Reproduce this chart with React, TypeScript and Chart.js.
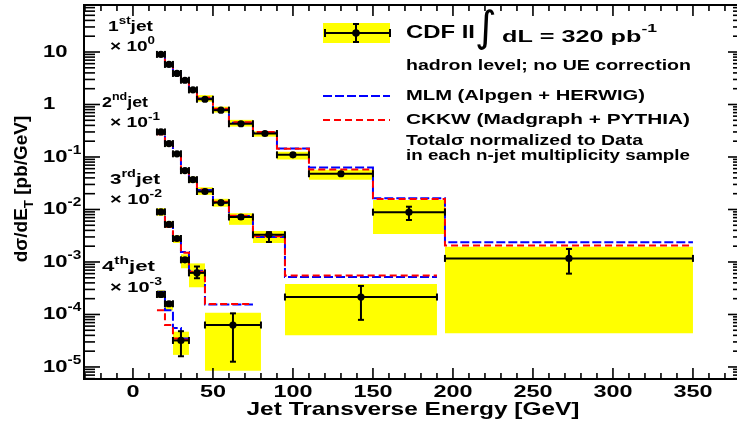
import React, { useEffect, useRef } from 'react';
import { Chart, registerables } from 'chart.js';

Chart.register(...registerables);

// ---------------- data (pb/GeV, values as plotted = already multiplied by the jet's factor) ----------------
// 1st jet  (x 10^0)
const jet1Edges = [15, 20, 25, 30, 35, 40, 50, 60, 75, 90, 110, 150, 195, 350];
const jet1Data = [9.0, 5.8, 3.9, 2.9, 1.9, 1.26, 0.78, 0.43, 0.28, 0.11, 0.048, 0.0089, 0.00117];
const jet1StatHi = [9.4, 6.05, 4.05, 3.02, 1.97, 1.31, 0.81, 0.45, 0.292, 0.116, 0.051, 0.0113, 0.00177];
const jet1StatLo = [8.6, 5.55, 3.75, 2.78, 1.83, 1.21, 0.75, 0.41, 0.268, 0.104, 0.045, 0.0063, 0.0006];
const jet1SysHi = [9.9, 6.4, 4.3, 3.2, 2.1, 1.51, 0.91, 0.51, 0.31, 0.126, 0.057, 0.0151, 0.00195];
const jet1SysLo = [8.2, 5.3, 3.5, 2.6, 1.7, 1.13, 0.7, 0.38, 0.244, 0.09, 0.037, 0.0034, 0.000044];
const jet1MlmEdges = [15, 20, 25, 30, 35, 40, 50, 60, 75, 90, 110, 150, 195, 350];
const jet1Mlm = [9.3, 6.0, 4.0, 2.95, 1.9, 1.3, 0.8, 0.45, 0.29, 0.145, 0.063, 0.0163, 0.00237];
const jet1Ckkw = [8.5, 5.6, 3.8, 2.9, 1.95, 1.36, 0.83, 0.46, 0.3, 0.143, 0.058, 0.0158, 0.00205];

// 2nd jet  (x 10^-1)
const jet2Edges = [15, 20, 25, 30, 35, 40, 50, 60, 75, 95, 190];
const jet2Data = [0.3, 0.18, 0.115, 0.055, 0.037, 0.022, 0.0135, 0.0072, 0.0033, 0.000215];
const jet2StatHi = [0.31, 0.186, 0.119, 0.057, 0.0385, 0.023, 0.0142, 0.0077, 0.0037, 0.00035];
const jet2StatLo = [0.29, 0.174, 0.111, 0.053, 0.0355, 0.021, 0.0128, 0.0067, 0.0024, 0.000079];
const jet2SysHi = [0.33, 0.2, 0.127, 0.061, 0.042, 0.0265, 0.016, 0.0085, 0.0039, 0.00038];
const jet2SysLo = [0.27, 0.16, 0.103, 0.049, 0.032, 0.019, 0.0113, 0.0051, 0.0023, 0.00004];
const jet2MlmEdges = [15, 20, 25, 30, 35, 40, 50, 60, 75, 95, 190];
const jet2Mlm = [0.3, 0.18, 0.115, 0.057, 0.038, 0.0235, 0.0135, 0.0075, 0.003, 0.00052];
const jet2Ckkw = [0.27, 0.172, 0.113, 0.058, 0.04, 0.024, 0.014, 0.0076, 0.0031, 0.00055];

// 3rd jet  (x 10^-2)
const jet3Edges = [15, 20, 25, 30, 35, 45, 80];
const jet3Data = [0.009, 0.0052, 0.0028, 0.0011, 0.00062, 0.000063];
const jet3StatHi = [0.0093, 0.0054, 0.0029, 0.00118, 0.00082, 0.000105];
const jet3StatLo = [0.0087, 0.005, 0.0027, 0.00102, 0.00049, 0.0000126];
const jet3SysHi = [0.0106, 0.0059, 0.0032, 0.0014, 0.00094, 0.000108];
const jet3SysLo = [0.0076, 0.0045, 0.0023, 0.00076, 0.00033, 0.0000085];
const jet3MlmEdges = [15, 20, 25, 30, 35, 45, 75];
const jet3Mlm = [0.009, 0.005, 0.0027, 0.00155, 0.00068, 0.000155];
const jet3Ckkw = [0.0085, 0.0047, 0.0026, 0.0015, 0.00065, 0.000158];

// 4th jet  (x 10^-3)
const jet4Edges = [15, 20, 25, 35];
const jet4Data = [0.00024, 0.00016, 0.000032];
const jet4StatHi = [0.00026, 0.000172, 0.000048];
const jet4StatLo = [0.00022, 0.000148, 0.000016];
const jet4SysHi = [0.00029, 0.00018, 0.000047];
const jet4SysLo = [0.00021, 0.00012, 0.000017];
const jet4MlmEdges = [15, 20, 25, 30, 35];
const jet4Mlm = [0.00027, 0.00012, 0.000055, 0.000035];
const jet4Ckkw = [0.00012, 0.000063, 0.000035, 0.000033];

// axes
const xMin = -30.6;
const xMax = 381.9;
const yMin = 5.9e-6;
const yMax = 78.6;
const xMajorTicks = [0, 50, 100, 150, 200, 250, 300, 350];
const xTickLabels = ['0', '50', '100', '150', '200', '250', '300', '350'];
const xMinorStep = 10;
const yDecadeExponents = [1, 0, -1, -2, -3, -4, -5];

// ------------------------------------------------------------------------------------------------
type Jet = {
  edges: number[]; data: number[]; statHi: number[]; statLo: number[];
  sysHi: number[]; sysLo: number[]; mlmEdges: number[]; mlm: number[]; ckkw: number[];
};
const jets: Jet[] = [
  { edges: jet1Edges, data: jet1Data, statHi: jet1StatHi, statLo: jet1StatLo, sysHi: jet1SysHi, sysLo: jet1SysLo, mlmEdges: jet1MlmEdges, mlm: jet1Mlm, ckkw: jet1Ckkw },
  { edges: jet2Edges, data: jet2Data, statHi: jet2StatHi, statLo: jet2StatLo, sysHi: jet2SysHi, sysLo: jet2SysLo, mlmEdges: jet2MlmEdges, mlm: jet2Mlm, ckkw: jet2Ckkw },
  { edges: jet3Edges, data: jet3Data, statHi: jet3StatHi, statLo: jet3StatLo, sysHi: jet3SysHi, sysLo: jet3SysLo, mlmEdges: jet3MlmEdges, mlm: jet3Mlm, ckkw: jet3Ckkw },
  { edges: jet4Edges, data: jet4Data, statHi: jet4StatHi, statLo: jet4StatLo, sysHi: jet4SysHi, sysLo: jet4SysLo, mlmEdges: jet4MlmEdges, mlm: jet4Mlm, ckkw: jet4Ckkw },
];

const FAMILY = '"Liberation Sans", Arial, Helvetica, sans-serif';
const BLUE = '#0000ff';
const RED = '#ff0000';
const YELLOW = '#ffff00';

type Seg = { t: string; k?: 'sup' | 'sub' };
type TextOpts = {
  size: number; align?: 'left' | 'center' | 'right'; width?: number; sx?: number;
  family?: string; weight?: string; rot?: number; baseline?: CanvasTextBaseline;
  supScale?: number; supRise?: number;
};

function drawRich(ctx: CanvasRenderingContext2D, segs: Seg[], x: number, y: number, o: TextOpts) {
  const fam = o.family ?? FAMILY;
  const weight = o.weight ?? 'bold';
  const ss = o.supScale ?? 0.7;
  const fontOf = (s: Seg) => `${weight} ${s.k ? Math.round(o.size * ss * 10) / 10 : o.size}px ${fam}`;
  const ws = segs.map((s) => {
    ctx.font = fontOf(s);
    return ctx.measureText(s.t).width;
  });
  const nat = ws.reduce((a, b) => a + b, 0);
  const sx = o.width ? o.width / nat : o.sx ?? 1;
  ctx.save();
  ctx.translate(x, y);
  if (o.rot) ctx.rotate(o.rot);
  ctx.scale(sx, 1);
  let cx = o.align === 'center' ? -nat / 2 : o.align === 'right' ? -nat : 0;
  ctx.textAlign = 'left';
  ctx.textBaseline = o.baseline ?? 'middle';
  ctx.fillStyle = '#000';
  const rise = o.supRise ?? 0.42;
  segs.forEach((s, i) => {
    ctx.font = fontOf(s);
    const dy = s.k === 'sup' ? -o.size * rise : s.k === 'sub' ? o.size * 0.3 : 0;
    ctx.fillText(s.t, cx, dy);
    cx += ws[i];
  });
  ctx.restore();
}

function seg(ctx: CanvasRenderingContext2D, x1: number, y1: number, x2: number, y2: number) {
  ctx.beginPath();
  ctx.moveTo(x1, y1);
  ctx.lineTo(x2, y2);
  ctx.stroke();
}

const rootPlugin = {
  id: 'rootStyle',
  afterDatasetsDraw(chart: any) {
    const ctx: CanvasRenderingContext2D = chart.ctx;
    const xs = chart.scales.x;
    const ys = chart.scales.y;
    ctx.save();
    ctx.strokeStyle = '#000';
    ctx.lineWidth = 2;
    for (const j of jets) {
      for (let i = 0; i < j.data.length; i++) {
        const xl = xs.getPixelForValue(j.edges[i]);
        const xr = xs.getPixelForValue(j.edges[i + 1]);
        const xc = xs.getPixelForValue((j.edges[i] + j.edges[i + 1]) / 2);
        const yv = ys.getPixelForValue(j.data[i]);
        const yh = ys.getPixelForValue(j.statHi[i]);
        const yl = ys.getPixelForValue(j.statLo[i]);
        seg(ctx, xl, yv, xr, yv);
        seg(ctx, xl, yv - 3.5, xl, yv + 3.5);
        seg(ctx, xr, yv - 3.5, xr, yv + 3.5);
        seg(ctx, xc, yh, xc, yl);
        seg(ctx, xc - 3, yh, xc + 3, yh);
        seg(ctx, xc - 3, yl, xc + 3, yl);
      }
    }
    ctx.restore();
  },
  afterDraw(chart: any) {
    const ctx: CanvasRenderingContext2D = chart.ctx;
    const xs = chart.scales.x;
    const ys = chart.scales.y;
    const { left, right, top, bottom } = chart.chartArea;
    ctx.save();
    ctx.strokeStyle = '#000';
    // frame
    ctx.lineWidth = 2;
    ctx.strokeRect(left, top, right - left, bottom - top);
    // x ticks
    ctx.lineWidth = 1.6;
    const start = Math.ceil(xMin / xMinorStep) * xMinorStep;
    for (let v = start; v <= xMax; v += xMinorStep) {
      const px = xs.getPixelForValue(v);
      const len = xMajorTicks.includes(v) ? 11 : 6;
      seg(ctx, px, bottom, px, bottom - len);
      seg(ctx, px, top, px, top + len);
    }
    // y ticks
    for (let k = -6; k <= 1; k++) {
      for (let m = 1; m <= 9; m++) {
        const v = m * Math.pow(10, k);
        if (v < yMin || v > yMax) continue;
        const py = ys.getPixelForValue(v);
        const len = m === 1 ? 16 : 11;
        seg(ctx, left, py, left + len, py);
        seg(ctx, right, py, right - len, py);
      }
    }
    ctx.restore();

    // tick labels
    xMajorTicks.forEach((v, i) => {
      drawRich(ctx, [{ t: xTickLabels[i] }], xs.getPixelForValue(v), 392, { size: 17, align: 'center', sx: 1.38 });
    });
    yDecadeExponents.forEach((e) => {
      const py = ys.getPixelForValue(Math.pow(10, e));
      let segs: Seg[];
      if (e === 1) segs = [{ t: '10' }];
      else if (e === 0) segs = [{ t: '1' }];
      else segs = [{ t: '10' }, { t: String(e), k: 'sup' }];
      drawRich(ctx, segs, 43, py, { size: 17, sx: 1.3, supRise: 0.38 });
    });

    // axis titles
    drawRich(ctx, [{ t: 'Jet Transverse Energy [GeV]' }], 413, 410, { size: 19, align: 'center', width: 333 });
    drawRich(ctx, [{ t: 'dσ/dE' }, { t: 'T', k: 'sub' }, { t: ' [pb/GeV]' }], 27, 189, {
      size: 19, align: 'center', rot: -Math.PI / 2, baseline: 'alphabetic',
    });

    // jet labels
    drawRich(ctx, [{ t: '1' }, { t: 'st', k: 'sup' }, { t: 'jet' }], 108, 27, { size: 15, width: 45 });
    drawRich(ctx, [{ t: '× 10' }, { t: '0', k: 'sup' }], 110, 47, { size: 15, width: 45 });
    drawRich(ctx, [{ t: '2' }, { t: 'nd', k: 'sup' }, { t: 'jet' }], 102, 103, { size: 15, width: 46 });
    drawRich(ctx, [{ t: '× 10' }, { t: '-1', k: 'sup' }], 110, 123, { size: 15, width: 50 });
    drawRich(ctx, [{ t: '3' }, { t: 'rd', k: 'sup' }, { t: 'jet' }], 110, 180, { size: 15, width: 50 });
    drawRich(ctx, [{ t: '× 10' }, { t: '-2', k: 'sup' }], 110, 200, { size: 15, width: 52 });
    drawRich(ctx, [{ t: '4' }, { t: 'th', k: 'sup' }, { t: 'jet' }], 102, 267, { size: 15, width: 53 });
    drawRich(ctx, [{ t: '× 10' }, { t: '-3', k: 'sup' }], 110, 288, { size: 15, width: 52 });

    // legend
    ctx.save();
    ctx.fillStyle = YELLOW;
    ctx.fillRect(323, 23, 67, 20);
    ctx.strokeStyle = '#000';
    ctx.lineWidth = 2;
    seg(ctx, 325, 33, 390, 33);
    seg(ctx, 325, 29, 325, 37);
    seg(ctx, 390, 29, 390, 37);
    seg(ctx, 356, 24, 356, 42);
    seg(ctx, 353, 24, 359, 24);
    seg(ctx, 353, 42, 359, 42);
    ctx.fillStyle = '#000';
    ctx.beginPath();
    ctx.arc(356, 33, 3.8, 0, Math.PI * 2);
    ctx.fill();
    ctx.lineWidth = 2;
    ctx.setLineDash([9, 3]);
    ctx.strokeStyle = BLUE;
    seg(ctx, 323, 96, 390, 96);
    ctx.setLineDash([7, 4]);
    ctx.strokeStyle = RED;
    seg(ctx, 323, 120, 390, 120);
    ctx.restore();

    drawRich(ctx, [{ t: 'CDF II' }], 406, 33, { size: 18, width: 69 });
    drawRich(ctx, [{ t: '∫' }], 486, 30, { size: 42, align: 'center', family: '"DejaVu Sans", sans-serif', weight: 'normal' });
    drawRich(ctx, [{ t: 'dL = 320 pb' }, { t: '-1', k: 'sup' }], 502, 37, { size: 16.5, width: 155, supRise: 0.5 });
    drawRich(ctx, [{ t: 'hadron level; no UE correction' }], 406, 66, { size: 15.5, width: 285 });
    drawRich(ctx, [{ t: 'MLM (Alpgen + HERWIG)' }], 406, 96, { size: 15.5, width: 239 });
    drawRich(ctx, [{ t: 'CKKW (Madgraph + PYTHIA)' }], 406, 120, { size: 15.5, width: 284 });
    drawRich(ctx, [{ t: 'Totalσ normalized to Data' }], 406, 141, { size: 15.5, width: 237 });
    drawRich(ctx, [{ t: 'in each n-jet multiplicity sample' }], 406, 156, { size: 15.5, width: 284 });
  },
};

function stepPoints(edges: number[], vals: number[]) {
  const pts = vals.map((v, i) => ({ x: edges[i], y: v }));
  pts.push({ x: edges[vals.length], y: vals[vals.length - 1] });
  return pts;
}

export default function App() {
  const ref = useRef<HTMLCanvasElement>(null);
  useEffect(() => {
    const datasets: any[] = [];
    jets.forEach((j) => {
      j.data.forEach((_, i) => {
        datasets.push({
          data: [
            { x: j.edges[i], y: j.sysHi[i] },
            { x: j.edges[i + 1], y: j.sysHi[i] },
          ],
          fill: { value: j.sysLo[i] },
          backgroundColor: YELLOW,
          borderColor: 'rgba(0,0,0,0)',
          borderWidth: 0,
          showLine: false,
          pointRadius: 0,
          order: 5,
        });
      });
      datasets.push({
        data: stepPoints(j.mlmEdges, j.mlm),
        stepped: true,
        borderColor: BLUE,
        borderWidth: 2,
        borderDash: [9, 3],
        pointRadius: 0,
        fill: false,
        order: 3,
      });
      datasets.push({
        data: stepPoints(j.mlmEdges, j.ckkw),
        stepped: true,
        borderColor: RED,
        borderWidth: 2,
        borderDash: [7, 4],
        pointRadius: 0,
        fill: false,
        order: 2,
      });
      datasets.push({
        data: j.data.map((v, i) => ({ x: (j.edges[i] + j.edges[i + 1]) / 2, y: v })),
        showLine: false,
        pointRadius: 3.6,
        pointBackgroundColor: '#000',
        pointBorderColor: '#000',
        pointBorderWidth: 0,
        fill: false,
        order: 0,
      });
    });

    const chart = new Chart(ref.current as HTMLCanvasElement, {
      type: 'line',
      data: { datasets },
      options: {
        animation: false,
        responsive: false,
        devicePixelRatio: 1,
        events: [],
        layout: { padding: { left: 84, right: 6, top: 5, bottom: 43 } },
        scales: {
          x: { type: 'linear', min: xMin, max: xMax, bounds: 'data', display: false },
          y: { type: 'logarithmic', min: yMin, max: yMax, bounds: 'data', display: false },
        },
        plugins: { legend: { display: false }, tooltip: { enabled: false } },
      } as any,
      plugins: [rootPlugin as any],
    });
    return () => chart.destroy();
  }, []);

  return (
    <div style={{ position: 'fixed', left: 0, top: 0, width: 737, height: 422, overflow: 'hidden', background: '#fff' }}>
      <canvas ref={ref} width={750} height={422} style={{ display: 'block' }} />
    </div>
  );
}
